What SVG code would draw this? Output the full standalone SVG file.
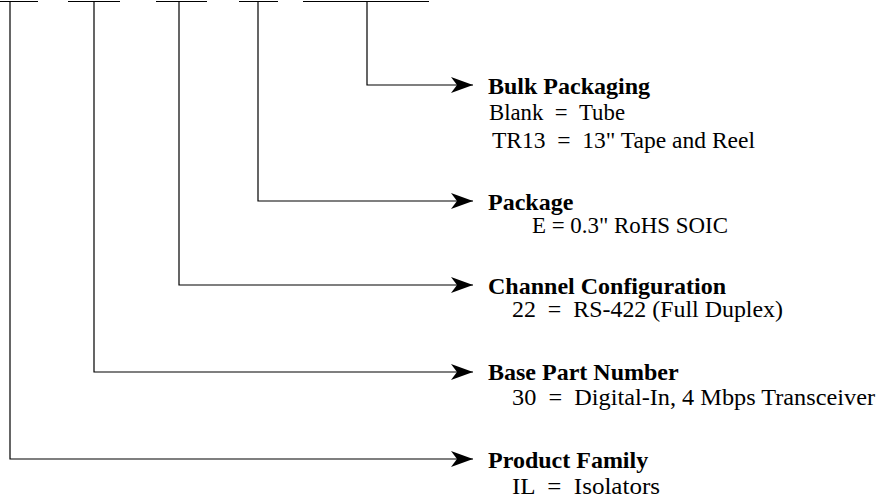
<svg xmlns="http://www.w3.org/2000/svg" width="877" height="503" viewBox="0 0 877 503">
<style>
.ln{fill:none;stroke:#000;stroke-width:1.2}
.h{font-family:"Liberation Serif","Times New Roman",serif;font-weight:bold;font-size:24px;fill:#000}
.t{font-family:"Liberation Serif","Times New Roman",serif;font-size:23px;fill:#000}
</style>
<defs>
<marker id="arr" markerUnits="userSpaceOnUse" markerWidth="24" markerHeight="18" refX="22" refY="8" orient="auto">
<path d="M0,0 L22,8 L0,16 L6,8 Z" fill="#000"/>
</marker>
</defs>
<rect width="877" height="503" fill="#fff"/>
<g id="bars">
<path class="ln" d="M0,1.5 H38 M68,1.5 H120 M156,1.5 H207 M239,1.5 H278 M303,1.5 H429"/>
</g>
<g id="connectors">
<path class="ln" d="M10,1.5 V459 H473" marker-end="url(#arr)"/>
<path class="ln" d="M94,1.5 V372 H473" marker-end="url(#arr)"/>
<path class="ln" d="M179,1.5 V285 H473" marker-end="url(#arr)"/>
<path class="ln" d="M258,1.5 V201 H473" marker-end="url(#arr)"/>
<path class="ln" d="M367,1.5 V85 H473" marker-end="url(#arr)"/>
</g>
<g id="bulk-packaging">
<text class="h" x="488" y="94">Bulk Packaging</text>
<text class="t" x="489" y="120" textLength="136" lengthAdjust="spacingAndGlyphs">Blank &#160;= &#160;Tube</text>
<text class="t" x="492" y="148" textLength="263" lengthAdjust="spacingAndGlyphs">TR13 &#160;= &#160;13" Tape and Reel</text>
</g>
<g id="package">
<text class="h" x="488" y="210">Package</text>
<text class="t" x="532" y="233" textLength="196" lengthAdjust="spacingAndGlyphs">E = 0.3" RoHS SOIC</text>
</g>
<g id="channel-configuration">
<text class="h" x="488" y="294">Channel Configuration</text>
<text class="t" x="512" y="317" textLength="271" lengthAdjust="spacingAndGlyphs">22 &#160;= &#160;RS-422 (Full Duplex)</text>
</g>
<g id="base-part-number">
<text class="h" x="488" y="380">Base Part Number</text>
<text class="t" x="512" y="405" textLength="363" lengthAdjust="spacingAndGlyphs">30 &#160;= &#160;Digital-In, 4 Mbps Transceiver</text>
</g>
<g id="product-family">
<text class="h" x="488" y="468">Product Family</text>
<text class="t" x="512" y="494" textLength="148" lengthAdjust="spacingAndGlyphs">IL &#160;= &#160;Isolators</text>
</g>
</svg>
